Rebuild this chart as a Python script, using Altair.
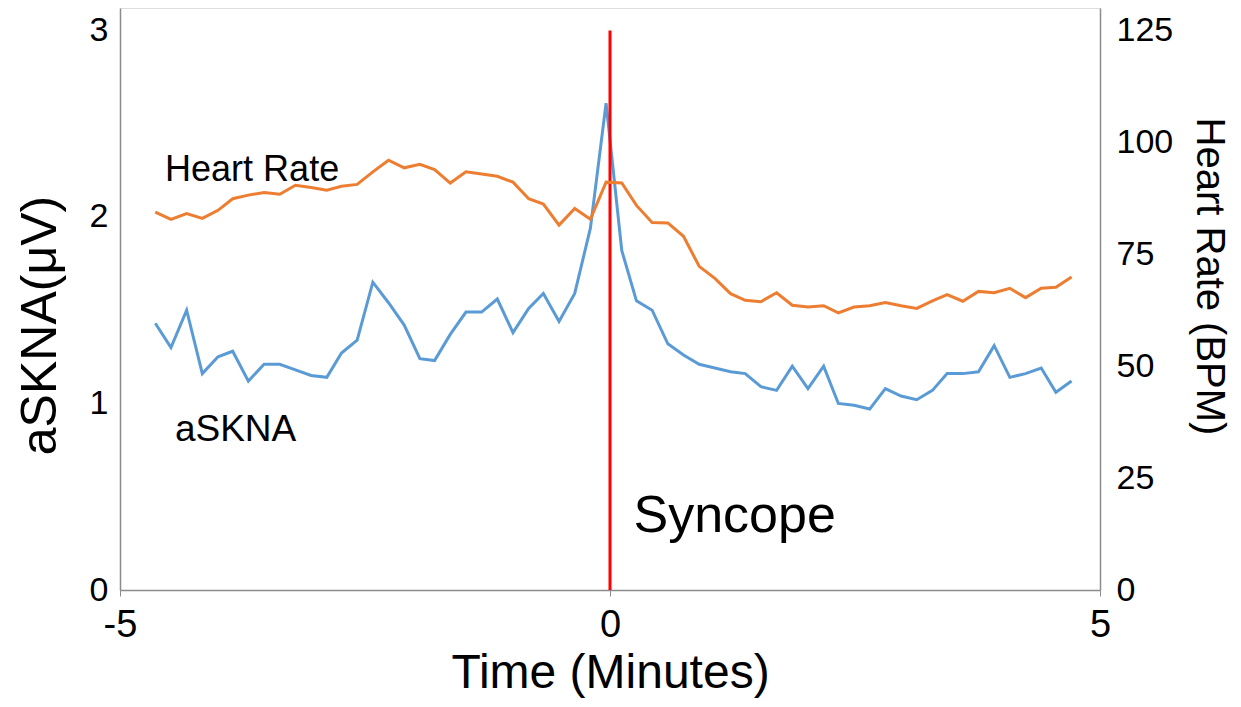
import altair as alt
import pandas as pd

# Time (minutes) relative to syncope
time_min = [-4.64, -4.48, -4.32, -4.16, -4.00, -3.85, -3.69, -3.53, -3.37, -3.21,
            -3.05, -2.89, -2.74, -2.58, -2.42, -2.26, -2.10, -1.94, -1.79, -1.63,
            -1.47, -1.31, -1.15, -0.99, -0.83, -0.68, -0.52, -0.36, -0.20, -0.04,
            0.12, 0.27, 0.43, 0.59, 0.75, 0.91, 1.07, 1.23, 1.38, 1.54,
            1.70, 1.86, 2.02, 2.18, 2.33, 2.49, 2.65, 2.81, 2.97, 3.13,
            3.29, 3.44, 3.60, 3.76, 3.92, 4.08, 4.24, 4.40, 4.55, 4.71]

askna_uv = [1.43, 1.30, 1.50, 1.16, 1.25, 1.28, 1.12, 1.21, 1.21, 1.18,
            1.15, 1.14, 1.27, 1.34, 1.65, 1.54, 1.42, 1.24, 1.23, 1.37,
            1.49, 1.49, 1.56, 1.38, 1.51, 1.59, 1.44, 1.59, 1.94, 2.61,
            1.82, 1.55, 1.50, 1.32, 1.26, 1.21, 1.19, 1.17, 1.16, 1.09,
            1.07, 1.20, 1.08, 1.20, 1.00, 0.99, 0.97, 1.08, 1.04, 1.02,
            1.07, 1.16, 1.16, 1.17, 1.31, 1.14, 1.16, 1.19, 1.06, 1.12]

heart_rate = [84.4, 82.8, 84.1, 83.0, 84.8, 87.4, 88.2, 88.8, 88.4, 90.4,
              89.9, 89.3, 90.2, 90.6, 93.4, 96.0, 94.3, 95.1, 93.9, 90.9,
              93.4, 92.9, 92.4, 91.1, 87.4, 86.2, 81.5, 85.2, 82.8, 91.1,
              90.9, 85.9, 82.1, 82.0, 79.0, 72.3, 69.6, 66.2, 64.7, 64.4,
              66.4, 63.6, 63.2, 63.5, 61.9, 63.2, 63.5, 64.2, 63.5, 62.9,
              64.6, 66.0, 64.5, 66.7, 66.4, 67.4, 65.3, 67.4, 67.6, 69.9]

x_ticks = [-5, 0, 5]
left_ticks = [0, 1, 2, 3]
right_ticks = [0, 25, 50, 75, 100, 125]

ann_text = ["Heart Rate", "aSKNA", "Syncope"]
ann_x = [-4.54, -4.44, 0.24]
ann_y = [2.19, 0.80, 0.31]
ann_size = [36, 37, 52]

df = pd.DataFrame({"t": time_min, "askna": askna_uv, "hr": heart_rate})
ann = pd.DataFrame({"label": ann_text, "x": ann_x, "y": ann_y, "size": ann_size})
marker = pd.DataFrame({"x": [0], "y0": [0], "y1": [3]})

REG = "Liberation Sans, Arial, sans-serif"
GRAY = "#8c8c8c"
PLAIN = "'' + datum.value"

x_enc = alt.X("t:Q", scale=alt.Scale(domain=[-5, 5], nice=False),
              axis=alt.Axis(values=x_ticks, title="Time (Minutes)", grid=False,
                            labelExpr=PLAIN, labelFlush=False,
                            domainColor=GRAY, domainWidth=1.5, tickColor=GRAY,
                            tickSize=6, labelFontSize=38, labelFont=REG,
                            labelColor="black", labelPadding=10,
                            titleFont=REG, titleFontSize=48, titleFontWeight="normal",
                            titleColor="black", titleBaseline="alphabetic", titleY=97))

yl_scale = alt.Scale(domain=[0, 3.12], nice=False)
yr_scale = alt.Scale(domain=[0, 130], nice=False)

blue = alt.Chart(df).mark_line(color="#5B9BD5", strokeWidth=3).encode(
    x=x_enc,
    y=alt.Y("askna:Q", scale=yl_scale,
            axis=alt.Axis(values=left_ticks, title="aSKNA(μV)", grid=False, ticks=False,
                          labelExpr=PLAIN, labelFlush=False,
                          domainColor=GRAY, domainWidth=1.5, labelFontSize=34,
                          labelFont=REG, labelColor="black", labelPadding=12,
                          titleFont=REG, titleFontSize=50, titleFontWeight="normal",
                          titleColor="black", titleAngle=-90, titleAlign="center",
                          titleBaseline="middle", titleX=-80, titleY=317)),
)

rule = alt.Chart(marker).mark_rule(color="#FF0000", strokeWidth=3).encode(
    x="x:Q", y=alt.Y("y0:Q", scale=yl_scale), y2="y1:Q"
)

texts = alt.Chart(ann).mark_text(align="left", baseline="alphabetic", font=REG,
                                 color="black").encode(
    x="x:Q", y=alt.Y("y:Q", scale=yl_scale), text="label:N",
    size=alt.Size("size:Q", scale=None, legend=None)
)

left = alt.layer(blue, rule, texts)

orange = alt.Chart(df).mark_line(color="#ED7D31", strokeWidth=3).encode(
    x=alt.X("t:Q", scale=alt.Scale(domain=[-5, 5], nice=False)),
    y=alt.Y("hr:Q", scale=yr_scale,
            axis=alt.Axis(orient="right", values=right_ticks, title="Heart Rate (BPM)",
                          labelExpr=PLAIN, labelFlush=False,
                          grid=False, ticks=False, domainColor=GRAY, domainWidth=1.5,
                          labelFontSize=34, labelFont=REG, labelColor="black",
                          labelPadding=16, titleFont=REG, titleFontSize=40,
                          titleFontWeight="normal", titleColor="black",
                          titleAngle=90, titleAlign="center", titleBaseline="middle",
                          titleX=108, titleY=268)),
)

chart = alt.layer(left, orange).resolve_scale(y="independent").properties(
    width=980, height=582,
    autosize=alt.AutoSizeParams(type="none"),
    padding={"left": 120, "top": 8, "right": 141, "bottom": 117},
).configure_view(stroke=None).configure(background="white")

chart.save("out.html", embed_options={"renderer": "svg", "actions": False})
